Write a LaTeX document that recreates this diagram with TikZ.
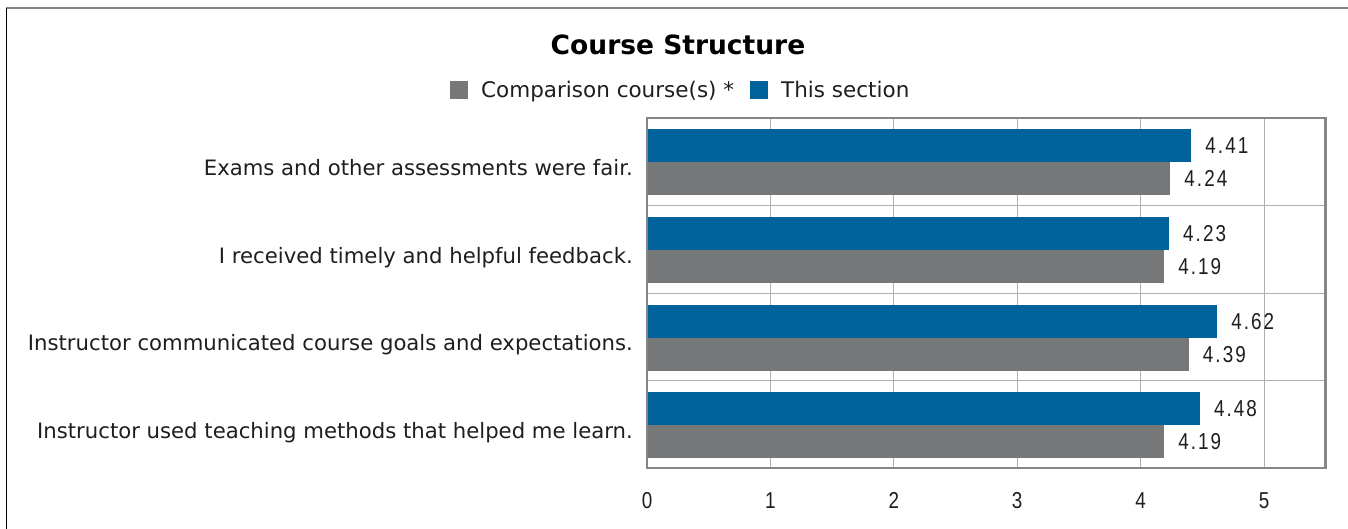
\documentclass[tikz,border=0pt]{standalone}
\usepackage{fontspec}
\setmainfont{DejaVu Sans}
\newfontfamily\valfont[FakeStretch=0.82,LetterSpace=9]{Liberation Sans}
\definecolor{barblue}{RGB}{0,98,155}
\definecolor{bargray}{RGB}{118,119,121}
\definecolor{gridc}{RGB}{175,175,175}
\definecolor{framec}{RGB}{134,134,134}
\definecolor{textc}{RGB}{30,30,30}
\tikzset{
  catlabel/.style={anchor=base east,inner sep=0pt,font=\fontsize{21.2}{24}\selectfont,text=textc},
  vallabel/.style={anchor=base west,inner sep=0pt,font=\valfont\fontsize{23}{26}\selectfont,text=textc},
  ticklabel/.style={anchor=base,inner sep=0pt,font=\valfont\fontsize{23}{26}\selectfont,text=textc},
  legsq/.style={draw=none,minimum size=18pt,inner sep=0pt},
  legtext/.style={anchor=base west,inner sep=0pt,font=\fontsize{21.5}{24}\selectfont,text=textc},
  gridline/.style={draw=gridc,line width=1pt},
}
\begin{document}
\begin{tikzpicture}[x=1pt,y=-1pt]
\useasboundingbox (0,0) rectangle (1348,529);
\fill[white] (0,0) rectangle (1348,529);
% outer frame
\draw[framec,line width=2pt] (6,8.5) -- (1348,8.5);
\draw[black,line width=1.3pt] (6.5,8) -- (6.5,529);
% title and legend
\node[anchor=base,inner sep=0pt,font=\bfseries\fontsize{26.5}{30}\selectfont,text=black] (title) at (678,55) {Course Structure};
\node[legsq,fill=bargray] (lsq1) at (459,90) {};
\node[legtext] (ltx1) at (481,97.5) {Comparison course(s) *};
\node[legsq,fill=barblue] (lsq2) at (759,90) {};
\node[legtext] (ltx2) at (781,97.5) {This section};
% plot geometry
\def\xo{647}
\def\u{123.4}
\def\ytop{118}
\def\h{87.5}
% gridlines
\foreach \k in {1,...,5} {
  \draw[gridline] ({\xo+\k*\u},\ytop) -- ({\xo+\k*\u},{\ytop+4*\h});
}
\foreach \k in {1,2,3} {
  \draw[gridline] (\xo,{\ytop+\k*\h}) -- ({\xo+5.5*\u},{\ytop+\k*\h});
}
% bars
\foreach \i/\b/\g/\lab in {0/4.41/4.24/Exams and other assessments were fair.,
                          1/4.23/4.19/I received timely and helpful feedback.,
                          2/4.62/4.39/Instructor communicated course goals and expectations.,
                          3/4.48/4.19/Instructor used teaching methods that helped me learn.} {
  \pgfmathsetmacro\yt{\ytop+\i*\h}
  \fill[barblue] (\xo,{\yt+11.5}) rectangle ({\xo+\b*\u},{\yt+44.5});
  \fill[bargray] (\xo,{\yt+44.5}) rectangle ({\xo+\g*\u},{\yt+77.5});
  \node[vallabel] (vb\i) at ({\xo+\b*\u+14},{\yt+36}) {\b};
  \node[vallabel] (vg\i) at ({\xo+\g*\u+14},{\yt+69}) {\g};
  \node[catlabel] (cat\i) at (633,{\yt+57.5}) {\lab};
}
% plot border
\draw[framec,line width=2.5pt] (\xo,\ytop) rectangle ({\xo+5.5*\u},{\ytop+4*\h});
% tick labels
\foreach \k in {0,...,5} {
  \node[ticklabel] (t\k) at ({\xo+\k*\u},508) {\k};
}
\end{tikzpicture}
\end{document}
